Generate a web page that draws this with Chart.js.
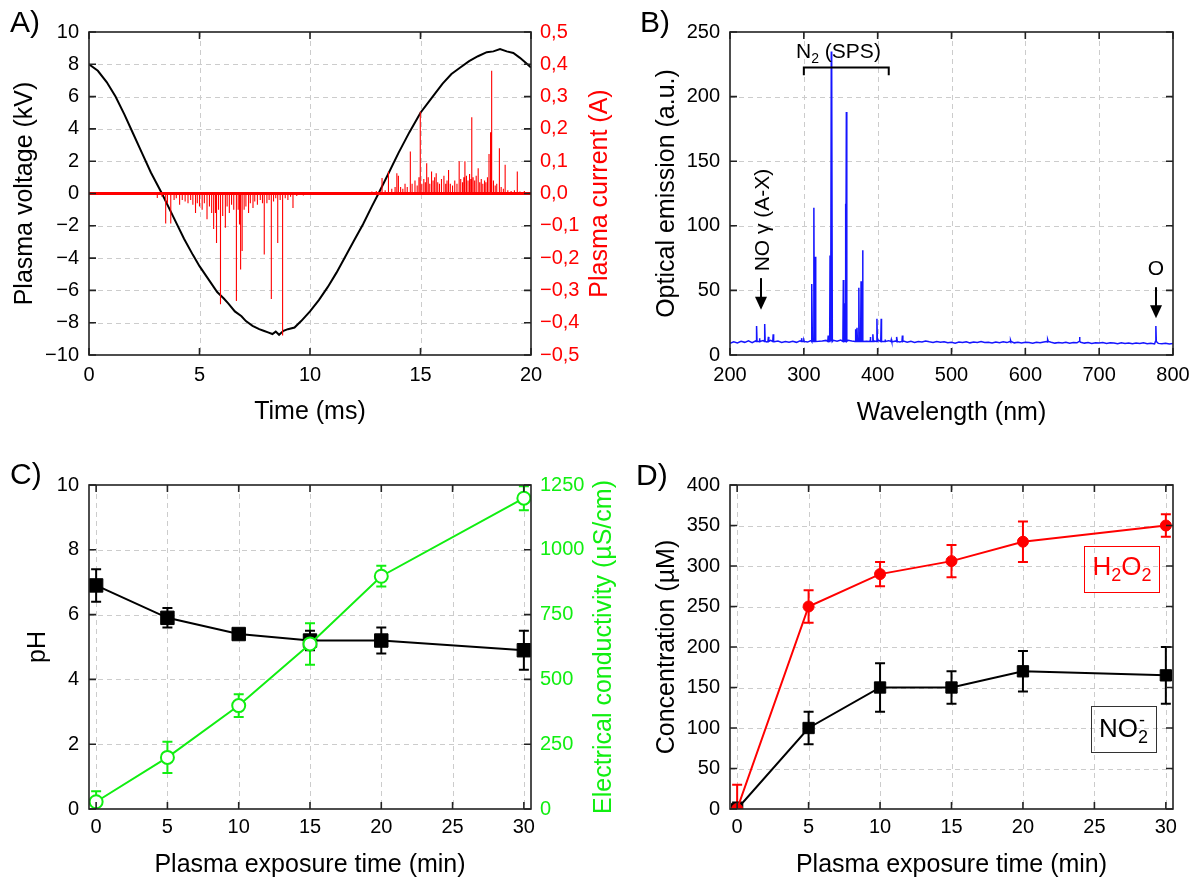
<!DOCTYPE html>
<html>
<head>
<meta charset="utf-8">
<title>Plasma treatment figure</title>
<script src="https://cdn.jsdelivr.net/npm/chart.js@4.4.1/dist/chart.umd.min.js"></script>
<style>
  html, body { margin: 0; padding: 0; background: #fff; }
  #wrap { position: relative; width: 1198px; height: 881px; overflow: hidden; }
  canvas { position: absolute; }
</style>
</head>
<body>
<div id="wrap">
  <canvas id="chartA" width="620" height="440" style="left:0;top:0"></canvas>
  <canvas id="chartB" width="598" height="440" style="left:600px;top:0"></canvas>
  <canvas id="chartC" width="620" height="441" style="left:0;top:440px"></canvas>
  <canvas id="chartD" width="598" height="441" style="left:600px;top:440px"></canvas>
</div>
<script>
// ---- Panel A: plasma voltage (kV) and current (A) vs time (ms) ----
const voltTime = [0, 0.4, 0.8, 1.2, 1.6, 2.0, 2.4, 2.8, 3.3, 3.8, 4.3, 4.7, 5.0, 5.4, 5.8, 6.1, 6.3, 6.6, 6.9, 7.1,
  7.4, 7.7, 7.9, 8.1, 8.3, 8.45, 8.6, 8.8, 9.0, 9.3, 9.6, 10.0, 10.4, 10.8, 11.2, 11.6, 12.0, 12.4, 12.8, 13.1,
  13.5, 14.0, 14.5, 15.0, 15.5, 16.0, 16.4, 16.8, 17.2, 17.6, 18.0, 18.3, 18.6, 18.9, 19.2, 19.5, 19.8, 20.0];
const voltKV = [8.0, 7.6, 6.9, 6.0, 4.9, 3.7, 2.5, 1.3, 0.0, -1.4, -2.8, -3.8, -4.5, -5.3, -6.1, -6.5, -6.8, -7.3, -7.6, -7.9,
  -8.2, -8.4, -8.5, -8.6, -8.7, -8.55, -8.75, -8.5, -8.4, -8.3, -7.9, -7.3, -6.6, -5.8, -4.9, -3.9, -2.9, -1.9, -0.8, 0.0,
  1.1, 2.5, 3.8, 5.0, 5.9, 6.8, 7.4, 7.8, 8.2, 8.5, 8.75, 8.8, 8.95, 8.8, 8.7, 8.4, 8.05, 7.8];
const spikeTime = [3.09, 3.3, 3.47, 3.55, 3.7, 3.85, 3.95, 4.1, 4.22, 4.35, 4.48, 4.6, 4.7, 4.82, 4.9, 5.0, 5.12, 5.22,
  5.34, 5.45, 5.55, 5.64, 5.72, 5.77, 5.86, 5.95, 6.05, 6.17, 6.25, 6.35, 6.45, 6.55, 6.67, 6.75, 6.81, 6.86, 6.93,
  7.02, 7.1, 7.22, 7.3, 7.42, 7.5, 7.62, 7.75, 7.85, 7.93, 8.05, 8.15, 8.25, 8.35, 8.45, 8.54, 8.65, 8.76, 8.88, 9.0,
  9.12, 9.23, 9.4, 9.7, 10.0, 10.4, 10.9, 11.4, 11.8,
  12.0, 12.4, 12.8, 13.0, 13.26, 13.4, 13.55, 13.7, 13.85, 13.93, 14.0, 14.1, 14.2, 14.3, 14.4, 14.54, 14.62, 14.75,
  14.85, 14.93, 14.99, 15.06, 15.15, 15.22, 15.28, 15.35, 15.42, 15.5, 15.57, 15.64, 15.71, 15.78, 15.86, 15.95,
  16.06, 16.14, 16.2, 16.27, 16.35, 16.45, 16.55, 16.65, 16.75, 16.82, 16.9, 16.96, 17.01, 17.08, 17.15, 17.22,
  17.28, 17.32, 17.38, 17.45, 17.52, 17.61, 17.68, 17.75, 17.82, 17.9, 17.96, 18.03, 18.1, 18.17, 18.22, 18.3,
  18.38, 18.45, 18.57, 18.65, 18.75, 18.83, 18.95, 19.1, 19.25, 19.38, 19.5, 19.7, 19.85];
const spikeAmp = [-0.014, -0.01, -0.093, -0.03, -0.093, -0.02, -0.015, -0.035, -0.02, -0.025, -0.03, -0.02, -0.035,
  -0.06, -0.03, -0.04, -0.05, -0.03, -0.08, -0.04, -0.06, -0.11, -0.06, -0.153, -0.05, -0.343, -0.07, -0.106, -0.04,
  -0.06, -0.035, -0.05, -0.333, -0.05, -0.096, -0.235, -0.178, -0.05, -0.04, -0.06, -0.03, -0.045, -0.025, -0.035,
  -0.02, -0.03, -0.189, -0.03, -0.02, -0.327, -0.025, -0.015, -0.153, -0.02, -0.44, -0.015, -0.02, -0.01, -0.045,
  -0.008, -0.006, -0.005, -0.004, -0.005, -0.004, -0.004,
  0.004, 0.005, 0.006, 0.008, 0.048, 0.01, 0.068, 0.015, 0.02, 0.063, 0.055, 0.02, 0.015, 0.03, 0.02, 0.13, 0.03,
  0.04, 0.025, 0.05, 0.253, 0.03, 0.045, 0.035, 0.094, 0.05, 0.03, 0.068, 0.04, 0.05, 0.063, 0.035, 0.03, 0.045,
  0.055, 0.03, 0.04, 0.073, 0.03, 0.025, 0.04, 0.03, 0.1, 0.045, 0.035, 0.05, 0.1, 0.055, 0.04, 0.06, 0.045, 0.236,
  0.05, 0.04, 0.055, 0.078, 0.035, 0.045, 0.03, 0.04, 0.035, 0.05, 0.122, 0.19, 0.38, 0.04, 0.025, 0.03, 0.14, 0.02,
  0.015, 0.089, 0.01, 0.008, 0.01, 0.068, 0.006, 0.008, 0.005];

// ---- Panel B: optical emission spectrum ----
const baseWl = [200, 205, 210, 215, 220, 225, 230, 235, 240, 245, 250, 255, 260, 265, 270, 275, 280, 285, 290, 295,
  300, 305, 310, 315, 320, 325, 330, 335, 340, 345, 350, 355, 360, 365, 370, 375, 380, 385, 390, 395,
  400, 405, 410, 415, 420, 425, 430, 435, 440, 445, 450, 455, 460, 465, 470, 475, 480, 485, 490, 495,
  500, 505, 510, 515, 520, 525, 530, 535, 540, 545, 550, 555, 560, 565, 570, 575, 580, 585, 590, 595,
  600, 605, 610, 615, 620, 625, 630, 635, 640, 645, 650, 655, 660, 665, 670, 675, 680, 685, 690, 695,
  700, 705, 710, 715, 720, 725, 730, 735, 740, 745, 750, 755, 760, 765, 770, 775, 780, 785, 790, 795, 800];
const baseInt = [9.0, 10.2, 9.4, 10.6, 9.8, 10.9, 9.6, 11.0, 10.3, 11.2, 10.1, 11.4, 10.2, 10.8, 9.7, 10.5, 9.9, 10.6, 9.8, 10.9,
  10.4, 10.0, 11.2, 12.0, 10.6, 10.9, 11.3, 11.5, 11.4, 10.7, 11.6, 12.2, 11.4, 10.8, 11.8, 12.0, 11.5, 10.6, 11.6, 10.9,
  11.8, 11.2, 10.4, 11.1, 10.3, 10.9, 10.1, 10.8, 9.9, 10.6, 9.7, 10.5, 10.1, 10.9, 10.2, 9.6, 10.4, 9.8, 10.3, 9.5,
  9.9, 9.2, 10.1, 9.6, 10.3, 9.4, 10.0, 9.7, 10.4, 9.6, 9.9, 9.3, 10.0, 9.5, 10.2, 9.6, 10.1, 9.4, 9.9, 9.3,
  9.8, 9.6, 9.1, 9.8, 9.4, 10.0, 9.5, 9.9, 9.2, 9.7, 9.3, 9.8, 9.1, 9.6, 9.4, 9.9, 9.2, 9.6, 9.0, 9.5,
  9.2, 9.7, 9.0, 9.4, 9.3, 8.8, 9.5, 9.0, 9.3, 8.7, 9.2, 8.9, 9.4, 8.8, 9.1, 8.6, 9.0, 8.7, 9.1, 8.5, 8.9];
const lineWl = [236, 240, 247, 252, 258.5, 297, 300, 311, 313.6, 315.5, 333, 335.5, 337.2, 338, 353.5, 355.5, 356.5,
  357.6, 370, 372, 374.5, 377.5, 379.5, 390, 393.5, 399, 404.8, 410, 418.5, 426, 433.5, 580, 630.5, 673.4, 776.8];
const lineInt = [22.5, 13, 24, 14, 16, 13, 11.5, 55, 114, 76, 15, 77, 235, 220, 58, 40, 117,
  188, 20, 21, 52, 57, 81, 14, 16, 28, 28, 12, 12, 14, 15, 11.5, 12, 14, 22.5];

// ---- Panel C: pH and conductivity vs exposure time ----
const exposureMin = [0, 5, 10, 15, 20, 30];
const phMean = [6.9, 5.9, 5.4, 5.2, 5.2, 4.9];
const phErr = [0.5, 0.3, 0.1, 0.3, 0.4, 0.6];
const condMean = [28, 199, 399, 637, 898, 1199];
const condErr = [40, 60, 44, 80, 40, 46];

// ---- Panel D: H2O2 and NO2- concentration vs exposure time ----
const h2o2Mean = [0, 250, 290, 306, 330, 350];
const h2o2Err = [30, 20, 15, 20, 25, 14];
const no2Mean = [0, 100, 150, 150, 170, 165];
const no2Err = [8, 20, 30, 20, 25, 35];

// ---- shared styling ----
const FONT = '"Liberation Sans", Arial, Helvetica, sans-serif';
const RED = '#ff0000', GREEN = '#11ee11', BLUE = '#1515ff';
Chart.defaults.font.family = FONT;
Chart.defaults.color = '#000';
const tickFont = { size: 20 };
const titleFont = { size: 25 };

const pairs = (xs, ys) => xs.map((x, i) => ({ x, y: ys[i] }));
const minus = v => String(v).replace('-', '\u2212');
const comma1 = v => minus((Math.abs(v) < 1e-9 ? 0 : v).toFixed(1).replace('.', ','));
const fixSize = n => scale => { if (scale.isHorizontal()) scale.height = n; else scale.width = n; };

function linAxis({ min, max, step, pos, size, color = '#000', title, titlePad, tickPad = 9, fmt }) {
  return {
    type: 'linear', position: pos, min, max,
    ticks: { stepSize: step, includeBounds: false, autoSkip: false, maxRotation: 0, padding: tickPad,
             color, font: tickFont, callback: fmt || (v => minus(v)) },
    grid: { display: false, drawTicks: false },
    border: { display: false },
    title: title ? { display: true, text: title, color, font: titleFont, padding: titlePad } : { display: false },
    afterFit: fixSize(size)
  };
}

// dashed grid under the data, box and inward ticks over it
const frame = {
  id: 'frame',
  beforeDatasetsDraw(chart) {
    const { ctx, chartArea: a, scales: { x, y } } = chart;
    ctx.save();
    ctx.strokeStyle = '#cccccc'; ctx.lineWidth = 1; ctx.setLineDash([5, 4]);
    ctx.beginPath();
    x.ticks.forEach(t => {
      const p = Math.round(x.getPixelForValue(t.value)) + 0.5;
      if (p > a.left + 2 && p < a.right - 2) { ctx.moveTo(p, a.top); ctx.lineTo(p, a.bottom); }
    });
    y.ticks.forEach(t => {
      const p = Math.round(y.getPixelForValue(t.value)) + 0.5;
      if (p > a.top + 2 && p < a.bottom - 2) { ctx.moveTo(a.left, p); ctx.lineTo(a.right, p); }
    });
    ctx.stroke();
    ctx.restore();
  },
  afterDatasetsDraw(chart) {
    const { ctx, chartArea: a, scales: { x, y } } = chart;
    const L = 7;
    ctx.save();
    ctx.strokeStyle = '#222'; ctx.lineWidth = 1.6;
    ctx.strokeRect(a.left, a.top, a.right - a.left, a.bottom - a.top);
    ctx.beginPath();
    x.ticks.forEach(t => {
      const p = x.getPixelForValue(t.value);
      ctx.moveTo(p, a.bottom); ctx.lineTo(p, a.bottom - L);
      ctx.moveTo(p, a.top); ctx.lineTo(p, a.top + L);
    });
    y.ticks.forEach(t => {
      const p = y.getPixelForValue(t.value);
      ctx.moveTo(a.left, p); ctx.lineTo(a.left + L, p);
      ctx.moveTo(a.right, p); ctx.lineTo(a.right - L, p);
    });
    ctx.stroke();
    ctx.restore();
  }
};

const errorBars = {
  id: 'errorBars',
  beforeDatasetsDraw(chart) {
    const { ctx, chartArea: a } = chart;
    chart.data.datasets.forEach((ds, i) => {
      if (!ds.errors) return;
      const meta = chart.getDatasetMeta(i);
      const sc = chart.scales[meta.yAxisID];
      ctx.save();
      ctx.beginPath(); ctx.rect(a.left, a.top, a.right - a.left, a.bottom - a.top); ctx.clip();
      ctx.strokeStyle = ds.borderColor; ctx.lineWidth = 2;
      ctx.beginPath();
      meta.data.forEach((pt, j) => {
        const v = ds.data[j].y, e = ds.errors[j];
        const top = sc.getPixelForValue(v + e), bot = sc.getPixelForValue(v - e);
        ctx.moveTo(pt.x, top); ctx.lineTo(pt.x, bot);
        ctx.moveTo(pt.x - 5, top); ctx.lineTo(pt.x + 5, top);
        ctx.moveTo(pt.x - 5, bot); ctx.lineTo(pt.x + 5, bot);
      });
      ctx.stroke();
      ctx.restore();
    });
  }
};

const panelLabel = (text, x, y) => ({
  id: 'panelLabel',
  afterDraw(chart) {
    const c = chart.ctx;
    c.save(); c.font = `30px ${FONT}`; c.fillStyle = '#000'; c.textAlign = 'left'; c.textBaseline = 'alphabetic';
    c.fillText(text, x, y); c.restore();
  }
});

// right-hand axis title, reading bottom to top like the left one
const rightTitle = (text, color, x) => ({
  id: 'rightTitle',
  afterDraw(chart) {
    const { ctx, chartArea: a } = chart;
    ctx.save();
    ctx.translate(x, (a.top + a.bottom) / 2);
    ctx.rotate(-Math.PI / 2);
    ctx.font = `25px ${FONT}`; ctx.fillStyle = color; ctx.textAlign = 'center'; ctx.textBaseline = 'middle';
    ctx.fillText(text, 0, 0);
    ctx.restore();
  }
});

// text with subscripts (and an optional superscript over a subscript)
function drawRich(ctx, parts, x, y, size, color, measureOnly) {
  let cx = x;
  ctx.save();
  ctx.fillStyle = color || '#000'; ctx.textAlign = 'left'; ctx.textBaseline = 'alphabetic';
  parts.forEach(p => {
    if (p.sub !== undefined) {
      ctx.font = `${Math.round(size * 0.68)}px ${FONT}`;
      let w = ctx.measureText(p.sub).width;
      if (!measureOnly) ctx.fillText(p.sub, cx, y + size * 0.24);
      if (p.sup) {
        if (!measureOnly) ctx.fillText(p.sup, cx + 1, y - size * 0.42);
        w = Math.max(w, ctx.measureText(p.sup).width);
      }
      cx += w;
    } else {
      ctx.font = `${size}px ${FONT}`;
      if (!measureOnly) ctx.fillText(p.t, cx, y);
      cx += ctx.measureText(p.t).width;
    }
  });
  ctx.restore();
  return cx - x;
}

function arrowDown(ctx, x, y1, y2) {
  ctx.save();
  ctx.strokeStyle = '#000'; ctx.fillStyle = '#000'; ctx.lineWidth = 2;
  ctx.beginPath(); ctx.moveTo(x, y1); ctx.lineTo(x, y2 - 10); ctx.stroke();
  ctx.beginPath(); ctx.moveTo(x - 6, y2 - 13); ctx.lineTo(x + 6, y2 - 13); ctx.lineTo(x, y2); ctx.closePath(); ctx.fill();
  ctx.restore();
}

const baseOptions = pad => ({
  responsive: false, animation: false,
  layout: { padding: pad },
  plugins: { legend: { display: false }, tooltip: { enabled: false } },
  elements: { line: { tension: 0 } }
});

// ---- Panel A ----
const currentTrace = [{ x: 0, y: 0 }];
spikeTime.forEach((t, i) => { currentTrace.push({ x: t, y: 0 }, { x: t, y: spikeAmp[i] }, { x: t, y: 0 }); });
currentTrace.push({ x: 20, y: 0 });

new Chart(document.getElementById('chartA'), {
  type: 'line',
  data: { datasets: [
    { data: currentTrace, yAxisID: 'y2', borderColor: RED, borderWidth: 1.1, pointRadius: 0 },
    { data: [{ x: 0, y: 0 }, { x: 20, y: 0 }], yAxisID: 'y2', borderColor: RED, borderWidth: 3, pointRadius: 0 },
    { data: pairs(voltTime, voltKV), yAxisID: 'y', borderColor: '#000', borderWidth: 2, pointRadius: 0 }
  ] },
  options: Object.assign(baseOptions({ top: 32, left: 0, right: 0, bottom: 0 }), {
    scales: {
      x: linAxis({ min: 0, max: 20, step: 5, pos: 'bottom', size: 85, tickPad: 8, title: 'Time (ms)', titlePad: { bottom: 13 } }),
      y: linAxis({ min: -10, max: 10, step: 2, pos: 'left', size: 89, tickPad: 10, title: 'Plasma voltage (kV)', titlePad: { top: 10 } }),
      y2: linAxis({ min: -0.5, max: 0.5, step: 0.1, pos: 'right', size: 89, color: RED, fmt: comma1 })
    }
  }),
  plugins: [frame, rightTitle('Plasma current (A)', RED, 600), panelLabel('A)', 10, 32)]
});

// ---- Panel B ----
const spectrum = pairs(baseWl, baseInt);
lineWl.forEach((w, i) => { spectrum.push({ x: w - 0.6, y: 10.5 }, { x: w, y: lineInt[i] }, { x: w + 0.6, y: 10.5 }); });
spectrum.sort((a, b) => a.x - b.x);

const spectrumNotes = {
  id: 'spectrumNotes',
  afterDatasetsDraw(chart) {
    const { ctx, scales: { x, y } } = chart;
    ctx.save();
    ctx.strokeStyle = '#000'; ctx.lineWidth = 2;
    const bx1 = x.getPixelForValue(300), bx2 = x.getPixelForValue(415);
    const by = y.getPixelForValue(222.5), byEnd = y.getPixelForValue(216.5);
    ctx.beginPath(); ctx.moveTo(bx1, byEnd); ctx.lineTo(bx1, by); ctx.lineTo(bx2, by); ctx.lineTo(bx2, byEnd); ctx.stroke();
    drawRich(ctx, [{ t: 'N' }, { sub: '2' }, { t: ' (SPS)' }], x.getPixelForValue(289.5), y.getPixelForValue(235.5) + 7, 21, '#000');
    ctx.save();
    ctx.translate(x.getPixelForValue(245), y.getPixelForValue(104.5));
    ctx.rotate(-Math.PI / 2);
    ctx.font = `21px ${FONT}`; ctx.fillStyle = '#000'; ctx.textAlign = 'center'; ctx.textBaseline = 'middle';
    ctx.fillText('NO \u03b3 (A-X)', 0, 0);
    ctx.restore();
    arrowDown(ctx, x.getPixelForValue(242), y.getPixelForValue(59.5), y.getPixelForValue(35));
    ctx.font = `21px ${FONT}`; ctx.fillStyle = '#000'; ctx.textAlign = 'center'; ctx.textBaseline = 'middle';
    ctx.fillText('O', x.getPixelForValue(777), y.getPixelForValue(66.5));
    arrowDown(ctx, x.getPixelForValue(777), y.getPixelForValue(52.5), y.getPixelForValue(28.5));
    ctx.restore();
  }
};

new Chart(document.getElementById('chartB'), {
  type: 'line',
  data: { datasets: [
    { data: spectrum, borderColor: BLUE, borderWidth: 1.5, pointRadius: 0 }
  ] },
  options: Object.assign(baseOptions({ top: 32, left: 0, right: 25, bottom: 0 }), {
    scales: {
      x: linAxis({ min: 200, max: 800, step: 100, pos: 'bottom', size: 85, tickPad: 8, title: 'Wavelength (nm)', titlePad: { bottom: 12 } }),
      y: linAxis({ min: 0, max: 250, step: 50, pos: 'left', size: 130, tickPad: 10, title: 'Optical emission (a.u.)', titlePad: { top: 52 } })
    }
  }),
  plugins: [frame, spectrumNotes, panelLabel('B)', 40, 32)]
});

// ---- Panel C ----
new Chart(document.getElementById('chartC'), {
  type: 'line',
  data: { datasets: [
    { data: pairs(exposureMin, condMean), errors: condErr, yAxisID: 'y2', borderColor: GREEN, borderWidth: 2,
      pointStyle: 'circle', pointRadius: 6.5, pointBorderWidth: 2, pointBackgroundColor: '#fff', pointBorderColor: GREEN },
    { data: pairs(exposureMin, phMean), errors: phErr, yAxisID: 'y', borderColor: '#000', borderWidth: 2,
      pointStyle: 'rect', pointRadius: 9.5, pointBorderWidth: 1, pointBackgroundColor: '#000', pointBorderColor: '#000' }
  ] },
  options: Object.assign(baseOptions({ top: 45, left: 0, right: 0, bottom: 0 }), {
    scales: {
      x: linAxis({ min: -0.5, max: 30.5, step: 5, pos: 'bottom', size: 72, tickPad: 6, title: 'Plasma exposure time (min)', titlePad: { bottom: 1 } }),
      y: linAxis({ min: 0, max: 10, step: 2, pos: 'left', size: 89, tickPad: 10, title: 'pH', titlePad: { top: 23 } }),
      y2: linAxis({ min: 0, max: 1250, step: 250, pos: 'right', size: 89, color: GREEN })
    }
  }),
  plugins: [frame, errorBars, rightTitle('Electrical conductivity (\u00b5S/cm)', GREEN, 604), panelLabel('C)', 10, 44)]
});

// ---- Panel D ----
const speciesLabels = {
  id: 'speciesLabels',
  afterDatasetsDraw(chart) {
    const { ctx, scales: { x, y } } = chart;
    const boxes = [
      { parts: [{ t: 'H' }, { sub: '2' }, { t: 'O' }, { sub: '2' }], cx: 26.93, cy: 296.3, color: RED, edge: RED, lift: 6 },
      { parts: [{ t: 'NO' }, { sub: '2', sup: '-' }], cx: 27.04, cy: 98.8, color: '#000', edge: '#333', lift: 8 }
    ];
    boxes.forEach(b => {
      const px = x.getPixelForValue(b.cx), py = y.getPixelForValue(b.cy);
      const w = drawRich(ctx, b.parts, 0, 0, 26, b.color, true);
      const bw = Math.round(w + 16), bh = 46;
      ctx.save();
      ctx.strokeStyle = b.edge; ctx.lineWidth = 1;
      ctx.strokeRect(Math.round(px - bw / 2) + 0.5, Math.round(py - bh / 2) + 0.5, bw, bh);
      ctx.restore();
      drawRich(ctx, b.parts, px - w / 2, py + b.lift, 26, b.color);
    });
  }
};

new Chart(document.getElementById('chartD'), {
  type: 'line',
  data: { datasets: [
    { data: pairs(exposureMin, h2o2Mean), errors: h2o2Err, borderColor: RED, borderWidth: 2,
      pointStyle: 'circle', pointRadius: 5.5, pointBorderWidth: 1, pointBackgroundColor: RED, pointBorderColor: RED },
    { data: pairs(exposureMin, no2Mean), errors: no2Err, borderColor: '#000', borderWidth: 2,
      pointStyle: 'rect', pointRadius: 8, pointBorderWidth: 1, pointBackgroundColor: '#000', pointBorderColor: '#000' }
  ] },
  options: Object.assign(baseOptions({ top: 45, left: 0, right: 25, bottom: 0 }), {
    scales: {
      x: linAxis({ min: -0.5, max: 30.5, step: 5, pos: 'bottom', size: 72, tickPad: 6, title: 'Plasma exposure time (min)', titlePad: { bottom: 1 } }),
      y: linAxis({ min: 0, max: 400, step: 50, pos: 'left', size: 130, tickPad: 10, title: 'Concentration (\u00b5M)', titlePad: { top: 52 } })
    }
  }),
  plugins: [frame, errorBars, speciesLabels, panelLabel('D)', 36, 45)]
});
</script>
</body>
</html>
